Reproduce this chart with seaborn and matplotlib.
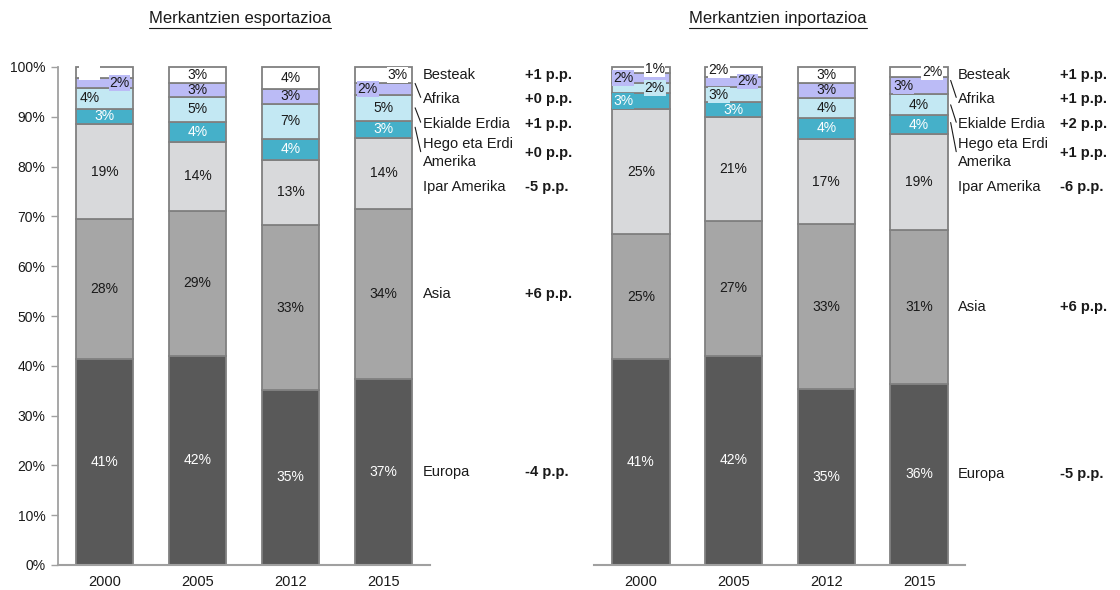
import numpy as np
import pandas as pd
import matplotlib
matplotlib.use("Agg")
import matplotlib.pyplot as plt
from matplotlib.lines import Line2D
import seaborn as sns

# === Data (shares of total, %) ===
years = ["2000", "2005", "2012", "2015"]
regions = ["Europa", "Asia", "Ipar Amerika", "Hego eta Erdi\nAmerika",
           "Ekialde Erdia", "Afrika", "Besteak"]

exp_europa = [41.3, 42.0, 35.2, 37.3]
exp_asia = [28.1, 29.1, 33.0, 34.2]
exp_ipar = [19.2, 13.9, 13.2, 14.3]
exp_hego = [3.0, 4.0, 4.2, 3.4]
exp_ekialde = [4.2, 5.0, 7.0, 5.2]
exp_afrika = [2.0, 2.8, 3.0, 2.4]
exp_besteak = [2.2, 3.2, 4.4, 3.2]
exp_change = [-4, 6, -5, 0, 1, 0, 1]

imp_europa = [41.3, 42.0, 35.3, 36.4]
imp_asia = [25.1, 27.1, 33.1, 30.9]
imp_ipar = [25.2, 20.8, 17.2, 19.3]
imp_hego = [3.2, 3.0, 4.2, 3.7]
imp_ekialde = [2.0, 3.0, 4.0, 4.2]
imp_afrika = [2.0, 2.0, 3.0, 3.4]
imp_besteak = [1.2, 2.1, 3.2, 2.1]
imp_change = [-5, 6, -6, 1, 2, 1, 1]

# === Styles ===
colors = ["#595959", "#a6a6a6", "#d8d9db", "#45b0c9", "#c3e8f3", "#bbbbf6", "#ffffff"]
text_colors = ["white", "#1a1a1a", "#1a1a1a", "white", "#1a1a1a", "#1a1a1a", "#1a1a1a"]
edge = "#808080"

# label nudges for thin segments: (year index, region index) -> (dx, dy)
exp_nudge = {(0, 4): (-0.16, 0), (0, 5): (0.16, 0), (0, 6): (-0.16, 0),
             (3, 6): (0.15, 0), (3, 5): (-0.17, 0)}
imp_nudge = {(0, 5): (-0.19, 0), (0, 6): (0.15, 0.2), (0, 4): (0.15, 0), (0, 3): (-0.19, 0),
             (1, 6): (-0.16, 0.4), (1, 5): (0.15, 0.2), (1, 4): (-0.16, 0),
             (3, 6): (0.14, 0), (3, 5): (-0.17, 0)}
hidden = {("exp", 0, 6)}
side_y = [None, None, 75.9, 82.7, 88.6, 93.6, 98.4]
leader_lift = {3: 0.4, 4: 0.0, 5: 1.1}

sns.set_style("white")
plt.rcParams["font.family"] = ["Liberation Sans", "DejaVu Sans"]

fig = plt.figure(figsize=(11.2, 5.9), dpi=100)
ax1 = fig.add_axes([58 / 1120, 25 / 590, 372 / 1120, 498 / 590])
ax2 = fig.add_axes([594.5 / 1120, 25 / 590, 371 / 1120, 498 / 590])

panels = [
    (ax1, "exp", [exp_europa, exp_asia, exp_ipar, exp_hego, exp_ekialde, exp_afrika, exp_besteak],
     exp_change, exp_nudge),
    (ax2, "imp", [imp_europa, imp_asia, imp_ipar, imp_hego, imp_ekialde, imp_afrika, imp_besteak],
     imp_change, imp_nudge),
]

for ax, key, series, change, nudge in panels:
    bottom = np.zeros(len(years))
    mids = []
    for r, vals in enumerate(series):
        vals = np.array(vals)
        sns.barplot(x=years, y=vals, bottom=bottom, color=colors[r], width=0.62,
                    edgecolor=edge, linewidth=1.3, saturation=1, ax=ax)
        for i, v in enumerate(vals):
            dx, dy = nudge.get((i, r), (0.0, 0.0))
            kw = {}
            if dx != 0:
                kw["bbox"] = dict(boxstyle="square,pad=0.05", fc=colors[r], ec="none")
            tc = text_colors[r]
            if (key, i, r) in hidden:
                tc = "white"
            ax.text(i + dx, bottom[i] + v / 2 + dy, f"{v:.0f}%", ha="center", va="center",
                    fontsize=10, color=tc, zorder=5, **kw)
        mids.append(bottom + vals / 2)
        bottom = bottom + vals

    # side labels
    last = len(years) - 1
    for r, name in enumerate(regions):
        y = side_y[r] if side_y[r] is not None else mids[r][last]
        ax.text(3.42, y, name, ha="left", va="center", fontsize=10.5,
                color="#1a1a1a", clip_on=False, linespacing=1.35)
        ax.text(4.52, y, f"{change[r]:+d} p.p.", ha="left", va="center", fontsize=10.5,
                fontweight="bold", color="#1a1a1a", clip_on=False)
        if r in leader_lift:
            ax.add_line(Line2D([3.34, 3.40], [mids[r][last] + leader_lift[r], y + 0.3],
                               color="#1a1a1a", lw=0.8, clip_on=False))

    for p in ax.patches:
        p.set_clip_on(False)
    ax.set_xlim(-0.5, 3.5)
    ax.set_ylim(0, 100)
    ax.set_xlabel("")
    ax.set_ylabel("")
    for s in ["top", "right"]:
        ax.spines[s].set_visible(False)
    ax.spines["bottom"].set_color("#a0a0a0")
    ax.spines["bottom"].set_linewidth(1.5)
    ax.tick_params(axis="x", length=0, labelsize=10.5, pad=7, colors="#1a1a1a")

ax1.set_yticks(np.arange(0, 101, 10))
ax1.set_yticklabels([f"{t}%" for t in range(0, 101, 10)])
ax1.spines["left"].set_color("#a0a0a0")
ax1.spines["left"].set_linewidth(1.3)
ax1.tick_params(axis="y", length=5, width=1, color="#a0a0a0", labelsize=10,
                labelcolor="#1a1a1a", left=True, pad=4)
ax2.spines["left"].set_visible(False)
ax2.set_yticks([])

# titles with underline
titles = [(240 / 1120, "Merkantzien esportazioa"), (778 / 1120, "Merkantzien inportazioa")]
fig.canvas.draw()
renderer = fig.canvas.get_renderer()
for x, t in titles:
    txt = fig.text(x, 1 - 19 / 590, t, ha="center", va="center", fontsize=12, color="#1a1a1a")
    bb = txt.get_window_extent(renderer).transformed(fig.transFigure.inverted())
    fig.add_artist(Line2D([bb.x0, bb.x1], [bb.y0 - 1.0 / 590, bb.y0 - 1.0 / 590],
                          transform=fig.transFigure, color="#1a1a1a", lw=0.8))

fig.savefig("out.png", dpi=100)
